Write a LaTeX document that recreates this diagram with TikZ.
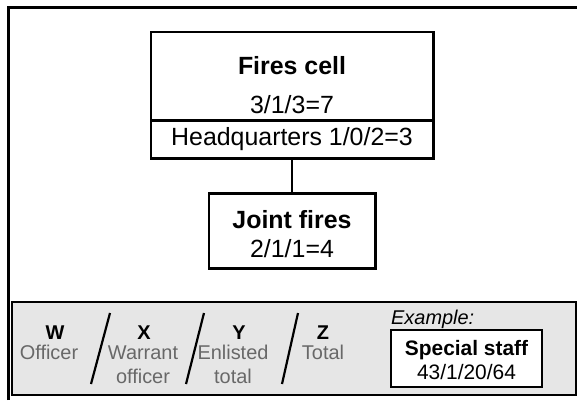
\documentclass[tikz,border=0pt]{standalone}
\usepackage{fontspec}
\setmainfont{Liberation Sans}
\usetikzlibrary{positioning}
\definecolor{keyfill}{HTML}{E6E6E6}
\definecolor{keytext}{HTML}{686868}

\begin{document}
\begin{tikzpicture}[x=1bp, y=-1bp,
			rec/.style    = {draw, rectangle, line width=3pt, inner sep=0pt, outer sep=0pt},
			cell/.style   = {rec, minimum width=282bp},
			title/.style  = {font=\fontsize{25}{29}\selectfont\bfseries, inner sep=0pt, anchor=base},
			count/.style  = {font=\fontsize{25}{29}\selectfont, inner sep=0pt, anchor=base},
			letter/.style = {font=\fontsize{20}{24}\selectfont\bfseries, inner sep=0pt, anchor=base},
			field/.style  = {font=\fontsize{20}{24}\selectfont, text=keytext, inner sep=0pt, anchor=base},
			slash/.style  = {draw, line width=2.2pt},
			link/.style   = {draw, line width=3pt}]
			
			\fill[white] (0,0) rectangle (577,400);
			\useasboundingbox (0,0) rectangle (577,400);
			\draw[line width=3pt] (8.5,400) |- (577,7.5);
			
			\node[cell, minimum height=88bp] (fires) at (292,76) {};
			\node[cell, minimum height=38bp, below=0pt of fires, font=\fontsize{25}{29}\selectfont] (hq) {Headquarters 1/0/2=3};
			\node[rec, minimum width=166bp, minimum height=75bp, below=35bp of hq] (joint) {};
			\draw[link] (hq) -- (joint);
			
			\node[title] (firesname) at (292,74) {Fires cell};
			\node[count] (firesnum) at (292,113) {3/1/3=7};
			\node[title] (jointname) at (292,228) {Joint fires};
			\node[count] (jointnum) at (292,257) {2/1/1=4};
			
			% key along the bottom
			\node[rec, line width=1.5pt, fill=keyfill, minimum width=564bp, minimum height=93bp, anchor=north west] (key) at (12,302) {};
			
			\foreach \l/\x in {W/55, X/144, Y/239, Z/323}
			\node[letter] (key\l) at (\x,339) {\l};
			
			\foreach \n/\t/\x in {a/Officer/49, b/Warrant/143, c/Enlisted/233, d/Total/323}
			\node[field] (field\n) at (\x,359) {\t};
			\node[field] (fieldb2) at (143,383) {officer};
			\node[field] (fieldc2) at (233,383) {total};
			
			\foreach \top/\bot in {110/91, 204/186, 298/282}
			\draw[slash] (\top,313) -- (\bot,384);
			
			\node[font=\fontsize{20}{24}\selectfont\itshape, inner sep=0pt, anchor=base west] (exlabel) at (391,324) {Example:};
			\node[rec, line width=2pt, fill=white, minimum width=151bp, minimum height=57bp, anchor=north west] (exbox) at (391,330) {};
			\node[letter, font=\fontsize{21}{25}\selectfont\bfseries] (exname) at (exbox.center |- 0,355.5) {Special staff};
			\node[field, text=black, font=\fontsize{21}{25}\selectfont] (exnum) at (exbox.center |- 0,379.5) {43/1/20/64};
		\end{tikzpicture}
\end{document}
